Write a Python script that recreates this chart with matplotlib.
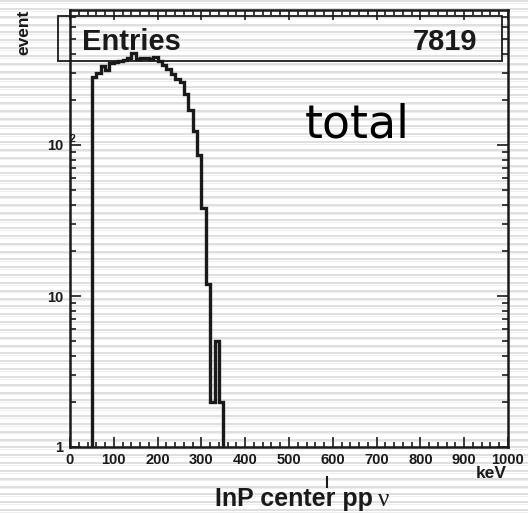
import numpy as np
import matplotlib
matplotlib.use("Agg")
import matplotlib.pyplot as plt
from matplotlib.patches import Rectangle
from matplotlib.lines import Line2D
from matplotlib.ticker import FixedLocator, FixedFormatter, LogLocator, NullFormatter, MultipleLocator

plt.rcParams['font.family'] = ['Liberation Sans', 'DejaVu Sans']
plt.rcParams['font.weight'] = 'bold'

# energy spectrum, 10 keV bins from 50 to 350 keV
bin_lo = 50
bin_hi = 350
bin_width = 10
counts = [282, 301, 334, 314, 349, 354, 360, 366, 376, 405,
          370, 375, 375, 370, 381, 360, 341, 318, 294, 274,
          263, 218, 170, 124, 86, 38, 12, 2, 5, 2]
entries = sum(counts)

x_ticks = [0, 100, 200, 300, 400, 500, 600, 700, 800, 900, 1000]
y_ticks = [1, 10, 100]
y_tick_labels = ['1', '10', '10']

W, H = 528, 513
fig = plt.figure(figsize=(W / 100, H / 100), dpi=100)

def fx(x):
    return x / W

def fy(y):
    return 1 - y / H

# striped backdrop
bg = fig.add_axes([0, 0, 1, 1])
bg.set_zorder(0)
bg.set_xlim(0, W)
bg.set_ylim(H, 0)
bg.axis('off')
for yy in np.arange(1.1, H, 7.83):
    bg.axhline(yy, color='#dcdcdc', lw=1.3)
    bg.axhline(yy + 1.6, color='#eeeeee', lw=0.8)

ax = fig.add_axes([fx(70), fy(447), fx(508) - fx(70), fy(10) - fy(447)])
ax.set_zorder(1)
ax.set_facecolor('none')

edges = np.arange(bin_lo, bin_hi + bin_width, bin_width)
ax.stairs(counts, edges, baseline=1e-3, color='#1a1a1a', lw=2.4)

ax.set_xlim(0, 1000)
ax.set_yscale('log')
ax.set_ylim(1, 10 ** (437 / 151))

ax.xaxis.set_major_locator(FixedLocator(x_ticks))
ax.xaxis.set_minor_locator(MultipleLocator(20))
ax.set_xticklabels([str(v) for v in x_ticks])
ax.yaxis.set_major_locator(FixedLocator(y_ticks))
ax.yaxis.set_major_formatter(FixedFormatter(y_tick_labels))
ax.yaxis.set_minor_locator(LogLocator(base=10, subs=np.arange(2, 10)))
ax.yaxis.set_minor_formatter(NullFormatter())

ax.tick_params(axis='both', which='both', direction='in', top=True, right=True,
               colors='#1a1a1a', labelcolor='#1a1a1a', width=1.2)
ax.tick_params(axis='x', which='major', length=7, labelsize=10.5, pad=4)
ax.tick_params(axis='x', which='minor', length=3.6)
ax.tick_params(axis='y', which='major', length=8, labelsize=10.5, pad=5)
ax.tick_params(axis='y', which='minor', length=4.3)
for lab in ax.get_xticklabels() + ax.get_yticklabels():
    lab.set_fontweight('bold')
for sp in ax.spines.values():
    sp.set_linewidth(1.8)
    sp.set_color('#1a1a1a')

# exponent of the 10^2 label
fig.text(fx(72.5), fy(139), '2', ha='center', va='center', fontsize=7.5,
         fontweight='bold', color='#1a1a1a')

# stats box
fig.patches.append(Rectangle((fx(58), fy(61)), fx(502) - fx(58), fy(16) - fy(61),
                             transform=fig.transFigure, fill=False,
                             edgecolor='#1a1a1a', lw=1.3, zorder=5))
fig.text(fx(82), fy(50), 'Entries', ha='left', va='baseline', fontsize=21,
         fontweight='bold', color='#1a1a1a')
fig.text(fx(477), fy(50), str(entries), ha='right', va='baseline', fontsize=21,
         fontweight='bold', color='#1a1a1a')

fig.text(fx(305), fy(137), 'total', ha='left', va='baseline', fontsize=33,
         fontweight='normal', family='DejaVu Sans', color='black')

# axis titles
fig.text(fx(24), fy(10), 'event', rotation=90, ha='center', va='top',
         fontsize=12.5, fontweight='bold', color='#1a1a1a')
fig.text(fx(507), fy(473), 'keV', ha='right', va='center', fontsize=12.5,
         fontweight='bold', color='#1a1a1a')
fig.text(fx(373), fy(506), 'InP center pp', ha='right', va='baseline',
         fontsize=18, fontweight='bold', color='#1a1a1a')
fig.text(fx(378), fy(506), 'ν', ha='left', va='baseline', fontsize=18,
         fontweight='normal', family='Liberation Serif', color='#1a1a1a')
fig.lines.append(Line2D([fx(327), fx(327)], [fy(477), fy(487)],
                        transform=fig.transFigure, color='#1a1a1a', lw=1.5))

fig.savefig('out.png', dpi=100)
